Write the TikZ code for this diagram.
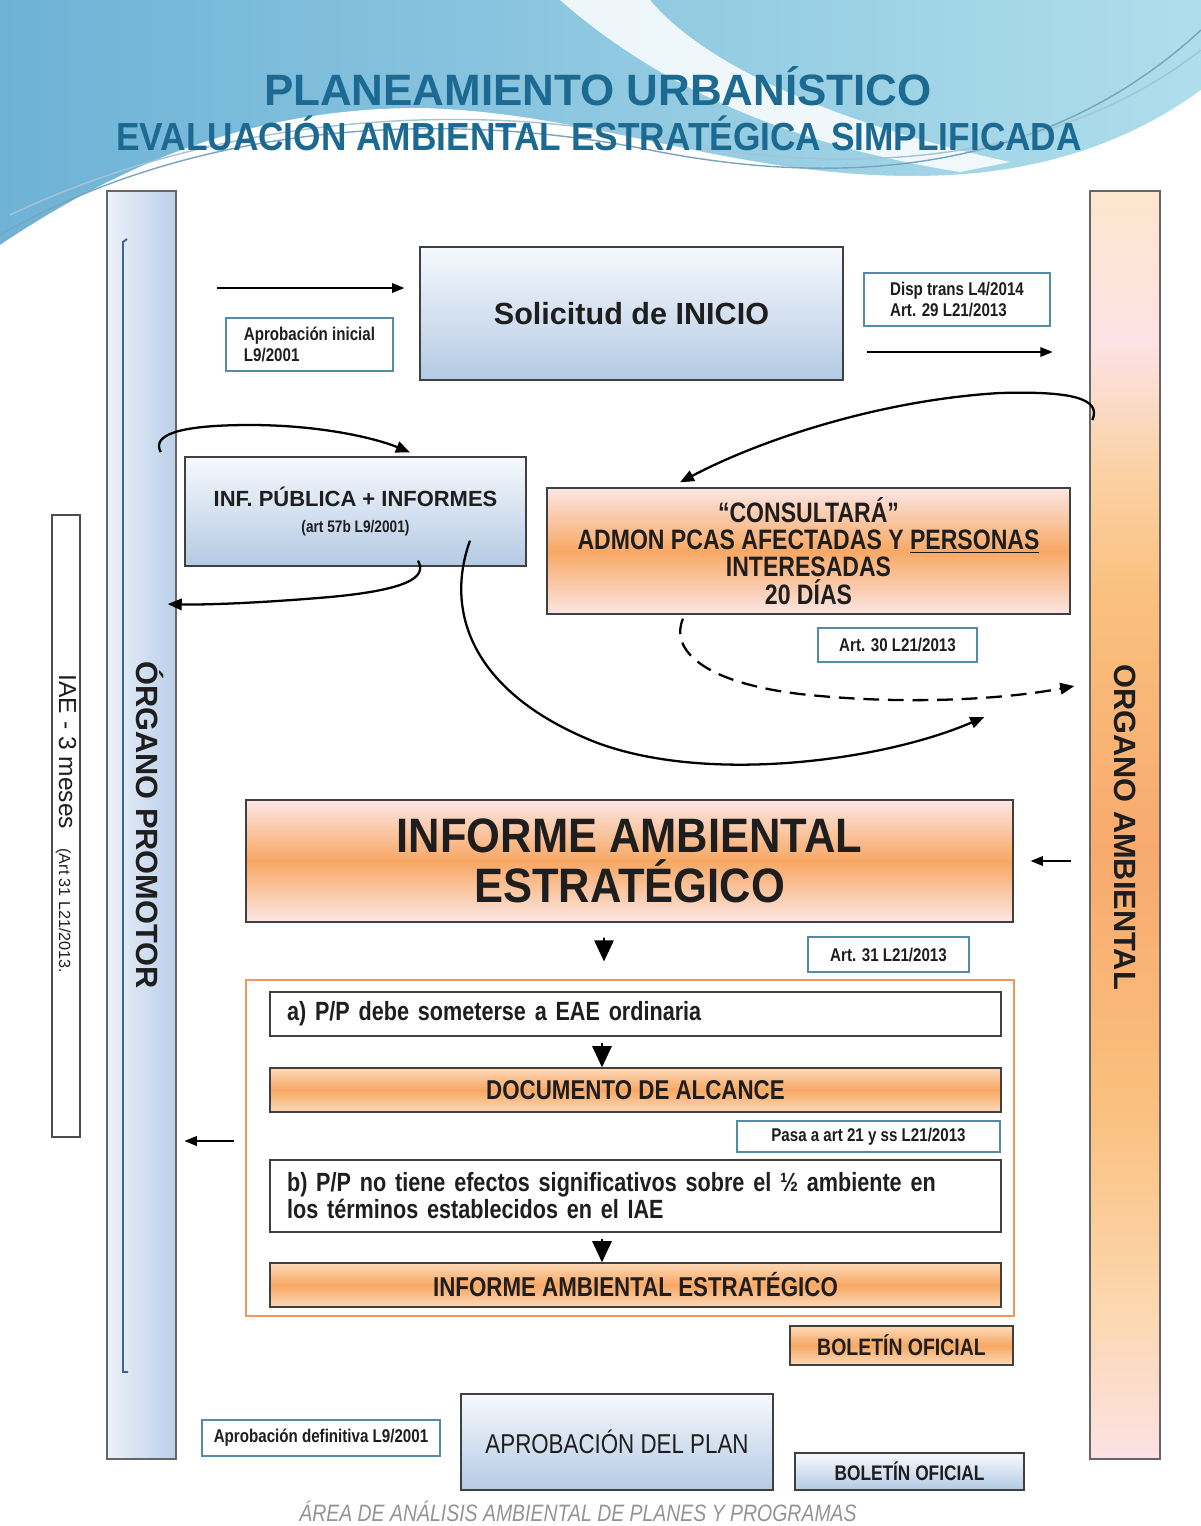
\documentclass[tikz,border=0pt]{standalone}
\usepackage{fontspec}
\setmainfont{Liberation Sans}
\newfontfamily\narrowfont[FakeStretch=0.82]{Liberation Sans}
\newfontfamily\semifont[FakeStretch=0.9]{Liberation Sans}
\usetikzlibrary{arrows.meta}

\definecolor{titleblue}{RGB}{28,106,146}
\definecolor{hdrblue}{RGB}{110,178,214}
\definecolor{hdrcyan}{RGB}{175,222,235}
\definecolor{paleblue}{RGB}{246,249,253}
\definecolor{lightblue}{RGB}{180,202,228}
\definecolor{barwhite}{RGB}{236,242,250}
\definecolor{barblue}{RGB}{186,207,233}
\definecolor{barline}{RGB}{62,100,158}
\definecolor{pinkish}{RGB}{252,230,228}
\definecolor{peach}{RGB}{253,218,185}
\definecolor{orangemid}{RGB}{248,168,100}
\definecolor{notebrd}{RGB}{84,140,168}
\definecolor{framebrd}{RGB}{238,150,95}
\definecolor{textdark}{RGB}{30,30,30}
\definecolor{ambtop}{RGB}{252,230,205}
\definecolor{ambpink}{RGB}{252,226,228}
\definecolor{amblight}{RGB}{251,210,165}
\definecolor{ambmid}{RGB}{250,192,125}
\definecolor{ambdeep}{RGB}{248,170,110}
\definecolor{ambpeach}{RGB}{252,215,175}

\pgfdeclareverticalshading{ambshade}{100bp}{color(0bp)=(ambpink); color(25bp)=(ambpink);
  color(31bp)=(ambpeach); color(39bp)=(ambmid); color(49bp)=(ambdeep); color(59bp)=(ambmid);
  color(64bp)=(amblight); color(69bp)=(ambpink); color(75bp)=(ambtop); color(100bp)=(ambtop)}

\newcommand\lawfont{\narrowfont\bfseries\fontsize{10.5}{11.5}\selectfont}
\newcommand\optfont{\narrowfont\bfseries\fontsize{15}{15.3}\selectfont}
\newcommand\barfont{\bfseries\fontsize{17.5}{20}\selectfont}

\tikzset{
  sidebar/.style={draw=black!60, line width=0.8pt, minimum width=#1, minimum height=25.36cm, inner sep=0pt},
  bluebox/.style={draw=black!75, line width=0.8pt, top color=paleblue, bottom color=lightblue, inner sep=0pt, text=textdark},
  orangebox/.style={draw=black!75, line width=0.8pt, top color=pinkish, bottom color=pinkish, middle color=orangemid, inner sep=0pt, text=textdark},
  peachbox/.style={draw=black!75, line width=0.8pt, top color=peach, bottom color=peach, middle color=orangemid, inner sep=0pt, text=textdark},
  lawnote/.style={draw=notebrd, line width=0.8pt, fill=white, inner sep=0pt, font=\lawfont, align=left, text=textdark},
  optbox/.style={draw=black!75, line width=0.8pt, fill=white, text width=13.94cm, inner xsep=0.34cm, inner ysep=0pt, align=left, font=\optfont, text=textdark},
  arr/.style={-{Triangle[length=7pt,width=5.5pt]}, line width=0.8pt},
  curve/.style={-{Triangle[length=8pt,width=6.5pt]}, line width=1.3pt},
  tri/.style={-{Triangle[length=12pt,width=11pt]}, line width=1pt},
}

\begin{document}
\begin{tikzpicture}[x=0.02cm, y=-0.02cm]
\useasboundingbox (0,0) rectangle (1201,1526);
\fill[white] (0,0) rectangle (1201,1526);

% header waves
\shade[left color=hdrblue, right color=hdrcyan] (0,0) rectangle (1201,250);
\fill[white] (0,245) .. controls (120,165) and (250,108) .. (420,108) .. controls (600,112) and (750,185) .. (950,175)
  .. controls (1080,168) and (1160,120) .. (1201,90) -- (1201,260) -- (0,260) -- cycle;
\fill[white, opacity=0.85] (560,0) .. controls (640,70) and (760,140) .. (960,172) -- (1010,162)
  .. controls (820,120) and (700,60) .. (650,0) -- cycle;
\draw[titleblue!60, line width=0.8pt] (0,235) .. controls (200,120) and (450,110) .. (650,150) .. controls (850,190) and (1050,170) .. (1201,30);
\draw[titleblue!40, line width=0.8pt] (10,215) .. controls (220,115) and (470,100) .. (660,140) .. controls (860,180) and (1060,160) .. (1201,50);
\node[font=\bfseries\fontsize{25}{30}\selectfont, text=titleblue] (title) at (598,86) {PLANEAMIENTO URBANÍSTICO};
\node[font=\semifont\bfseries\fontsize{22.3}{26}\selectfont, text=titleblue] (subtitle) at (599,133) {EVALUACIÓN AMBIENTAL ESTRATÉGICA SIMPLIFICADA};

% side bars
\node[sidebar=1.38cm, left color=barwhite, right color=barblue] (promotor) at (141.5,825) {};
\draw[barline, line width=1.1pt] (127,239) -- (123,242) -- (123,1372) -- (128,1372);
\node[rotate=-90, font=\barfont, text=textdark] (promotorlbl) at (150,825) {ÓRGANO PROMOTOR};
\node[sidebar=1.4cm, shading=ambshade] (ambiental) at (1125,825) {};
\node[rotate=-90, font=\barfont, text=textdark] (ambientallbl) at (1125,827) {ORGANO AMBIENTAL};
\node[draw=black!70, line width=0.8pt, fill=white, minimum width=0.56cm, minimum height=12.44cm, inner sep=0pt] (iaeplazo) at (66,826) {};
\node[rotate=-90, text=textdark] (iaeplazolbl) at (66,824) {{\fontsize{14}{16}\selectfont IAE - 3 meses}\hspace{1.1em}{\fontsize{9.2}{11}\selectfont (Art 31 L21/2013.}};

% upper stages
\node[bluebox, minimum width=8.46cm, minimum height=2.66cm, font=\bfseries\fontsize{17.4}{20}\selectfont] (solicitud) at (631.5,313.5) {Solicitud de INICIO};
\node[lawnote, minimum width=3.34cm, minimum height=1.06cm] (aprini) at (309.5,344.5) {Aprobación inicial\\L9/2001};
\node[lawnote, minimum width=3.72cm, minimum height=1.06cm] (disptrans) at (957,299.5) {Disp trans L4/2014\\Art. 29 L21/2013};
\node[bluebox, minimum width=6.82cm, minimum height=2.18cm, align=center] (infpub) at (355.5,511.5)
  {{\bfseries\fontsize{12.5}{14}\selectfont INF. PÚBLICA + INFORMES}\\[3pt]{\narrowfont\bfseries\fontsize{9.5}{11}\selectfont (art 57b L9/2001)}};
\node[orangebox, minimum width=10.46cm, minimum height=2.52cm, align=center, font=\narrowfont\bfseries\fontsize{16}{15.5}\selectfont] (consulta) at (808.5,551)
  {“CONSULTARÁ”\\ADMON PCAS AFECTADAS Y \underline{PERSONAS}\\INTERESADAS\\20 DÍAS};
\node[lawnote, minimum width=3.18cm, minimum height=0.68cm] (art30) at (897.5,645) {Art. 30 L21/2013};

% informe ambiental
\node[orangebox, minimum width=15.34cm, minimum height=2.44cm, align=center, font=\semifont\bfseries\fontsize{27.5}{28.3}\selectfont] (iae) at (629.5,861)
  {INFORME AMBIENTAL\\ESTRATÉGICO};
\node[lawnote, minimum width=3.22cm, minimum height=0.7cm] (art31) at (888.5,954.5) {Art. 31 L21/2013};
\node[draw=framebrd, line width=0.7pt, minimum width=15.36cm, minimum height=6.72cm, inner sep=0pt] (frame) at (630,1148) {};
\node[optbox, minimum height=0.88cm] (opta) at (635.5,1014) {a) P/P debe someterse a EAE ordinaria};
\node[peachbox, minimum width=14.62cm, minimum height=0.88cm, font=\narrowfont\bfseries\fontsize{15.5}{17}\selectfont] (docalc) at (635.5,1090) {DOCUMENTO DE ALCANCE};
\node[lawnote, minimum width=5.26cm, minimum height=0.62cm] (pasa) at (868.5,1136.5) {Pasa a art 21 y ss L21/2013};
\node[optbox, minimum height=1.44cm] (optb) at (635.5,1196) {b) P/P no tiene efectos significativos sobre el ½ ambiente en\\los términos establecidos en el IAE};
\node[peachbox, minimum width=14.62cm, minimum height=0.88cm, font=\narrowfont\bfseries\fontsize{15.5}{17}\selectfont] (iaefinal) at (635.5,1285) {INFORME AMBIENTAL ESTRATÉGICO};

% final stages
\node[peachbox, minimum width=4.46cm, minimum height=0.78cm, font=\narrowfont\bfseries\fontsize{13.5}{15}\selectfont] (boletinamb) at (901.5,1345.5) {BOLETÍN OFICIAL};
\node[lawnote, minimum width=4.76cm, minimum height=0.72cm] (aprdef) at (321,1438) {Aprobación definitiva L9/2001};
\node[bluebox, minimum width=6.24cm, minimum height=1.92cm, font=\narrowfont\fontsize{15.5}{17}\selectfont] (aprplan) at (617,1442) {APROBACIÓN DEL PLAN};
\node[bluebox, minimum width=4.58cm, minimum height=0.74cm, font=\narrowfont\bfseries\fontsize{12}{14}\selectfont] (boletinprom) at (909.5,1471.5) {BOLETÍN OFICIAL};
\node[font=\narrowfont\itshape\fontsize{13.5}{15}\selectfont, text=black!42] (footer) at (578,1511) {ÁREA DE ANÁLISIS AMBIENTAL DE PLANES Y PROGRAMAS};

% connectors
\draw[arr] ([xshift=-4.04cm,yshift=0.51cm]solicitud.west) -- ([xshift=-0.3cm,yshift=0.51cm]solicitud.west);
\draw[arr] ([xshift=0.46cm,yshift=-0.77cm]solicitud.east) -- ([xshift=4.18cm,yshift=-0.77cm]solicitud.east);
\draw[curve] ([xshift=0.06cm,yshift=8.1cm]ambiental.west) .. controls (1102,398) and (1070,391) .. (1000,393)
  .. controls (880,400) and (760,440) .. ([xshift=-2.57cm,yshift=0.1cm]consulta.north);
\draw[curve] ([xshift=-0.32cm,yshift=7.46cm]promotor.east) .. controls (150,432) and (190,425) .. (250,425)
  .. controls (320,425) and (375,438) .. ([xshift=1.09cm,yshift=0.08cm]infpub.north);
\draw[curve] ([xshift=1.25cm,yshift=0.12cm]infpub.south) .. controls (428,578) and (405,590) .. (330,597)
  .. controls (260,603) and (205,605) .. ([xshift=-0.18cm,yshift=4.42cm]promotor.east);
\draw[curve] ([xshift=2.29cm,yshift=0.52cm]infpub.south) .. controls (445,610) and (470,690) .. (590,740)
  .. controls (700,785) and (880,762) .. ([xshift=-2.1cm,yshift=2.16cm]ambiental.west);
\draw[curve, dashed, dash pattern=on 9pt off 5pt] ([xshift=-2.51cm,yshift=-0.08cm]consulta.south) .. controls (670,648) and (700,682) .. (800,694)
  .. controls (900,705) and (1000,700) .. ([xshift=-0.3cm,yshift=2.78cm]ambiental.west);
\draw[arr] ([xshift=1.14cm]iae.east) -- ([xshift=0.34cm]iae.east);
\draw[tri] ([xshift=-0.51cm,yshift=-0.3cm]iae.south) -- ([xshift=-0.52cm,yshift=0.36cm]frame.north);
\draw[tri] ([xshift=-0.67cm,yshift=-0.12cm]opta.south) -- ([xshift=-0.67cm]docalc.north);
\draw[tri] ([xshift=-0.67cm,yshift=-0.12cm]optb.south) -- ([xshift=-0.67cm]iaefinal.north);
\draw[arr] ([xshift=-0.22cm,yshift=0.14cm]frame.west) -- ([xshift=-1.22cm,yshift=0.14cm]frame.west);
\end{tikzpicture}
\end{document}
